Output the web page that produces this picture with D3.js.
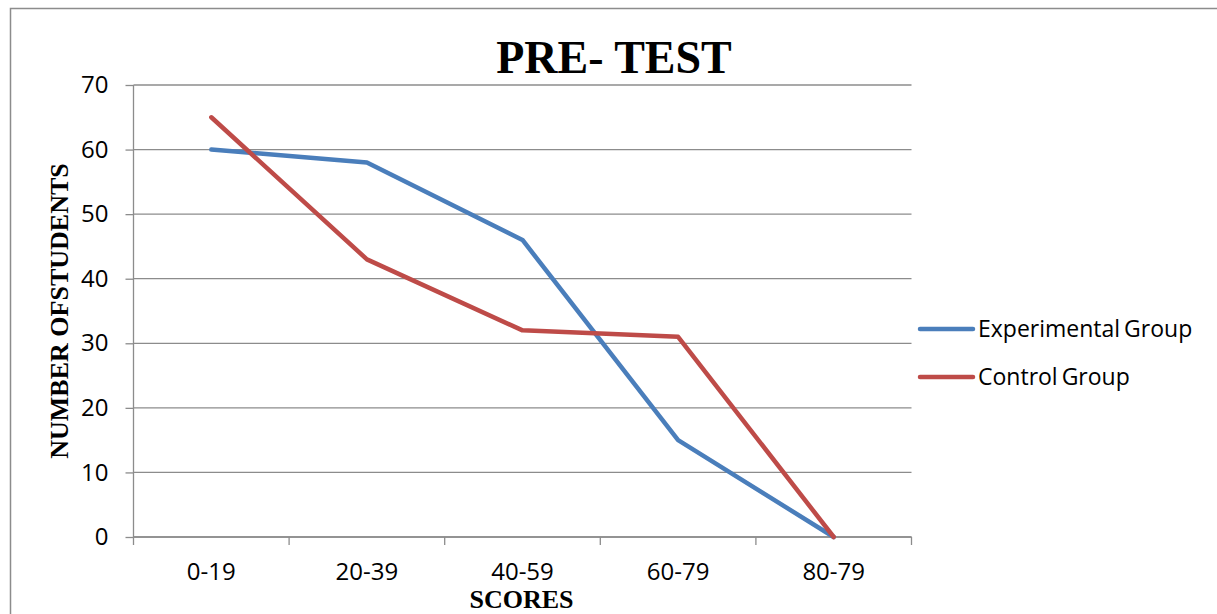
<!DOCTYPE html>
<html>
<head>
<meta charset="utf-8">
<script src="https://cdn.jsdelivr.net/npm/d3@7"></script>
<style>
  body { margin: 0; background: #fff; }
  .tick text { font-family: "Open Sans", sans-serif; font-size: 24px; fill: #000; }
</style>
</head>
<body>
<div id="chart"></div>
<script>
// chart values
var categories = ["0-19", "20-39", "40-59", "60-79", "80-79"];
var experimental = [60, 58, 46, 15, 0];
var control = [65, 43, 32, 31, 0];
var yTicks = [0, 10, 20, 30, 40, 50, 60, 70];
var seriesNames = ["Experimental Group", "Control Group"];
var seriesColors = ["#4a7ebb", "#be4b48"];

var W = 1217, H = 614;
var margin = { top: 85, right: 306, bottom: 77, left: 133.5 },
    width = 911.5 - margin.left,
    height = 537 - margin.top;

var svg = d3.select("#chart").append("svg")
    .attr("width", W)
    .attr("height", H);

// outer frame
svg.append("rect")
    .attr("x", 10.5).attr("y", 8.5)
    .attr("width", W + 10).attr("height", H + 10)
    .attr("fill", "none")
    .attr("stroke", "#8c8c8c")
    .attr("stroke-width", 1.5);

var g = svg.append("g")
    .attr("transform", "translate(" + margin.left + "," + margin.top + ")");

var x = d3.scaleBand().domain(categories).range([0, width]);
var y = d3.scaleLinear().domain([0, 70]).range([height, 0]);

// gridlines
g.selectAll(".grid")
    .data(yTicks)
    .enter().append("line")
    .attr("x1", 0).attr("x2", width)
    .attr("y1", function (d) { return y(d); })
    .attr("y2", function (d) { return y(d); })
    .attr("stroke", "#8c8c8c")
    .attr("stroke-width", 1.3);

var yAxis = g.append("g")
    .call(d3.axisLeft(y).tickValues(yTicks).tickSize(8).tickPadding(17));
yAxis.selectAll("line, path").attr("stroke", "#8c8c8c").attr("stroke-width", 1.3);
yAxis.select(".domain").attr("d", "M0," + height + "V0");

// bottom axis, ticks on the band edges
var xAxis = g.append("g")
    .attr("transform", "translate(0," + height + ")")
    .call(d3.axisBottom(x).tickSize(0).tickPadding(34));
xAxis.select(".domain").attr("d", "M0,0H" + width).attr("stroke", "#8c8c8c").attr("stroke-width", 1.3);
xAxis.selectAll("text").attr("dy", 0).attr("y", 43);

var edges = categories.map(function (c) { return x(c); }).concat([width]);
g.selectAll(".xtick")
    .data(edges)
    .enter().append("line")
    .attr("x1", function (d) { return d; })
    .attr("x2", function (d) { return d; })
    .attr("y1", height).attr("y2", height + 8)
    .attr("stroke", "#8c8c8c")
    .attr("stroke-width", 1.3);

var line = d3.line()
    .x(function (d, i) { return x(categories[i]) + x.bandwidth() / 2; })
    .y(function (d) { return y(d); });

[experimental, control].forEach(function (s, i) {
    g.append("path")
        .datum(s)
        .attr("d", line)
        .attr("fill", "none")
        .attr("stroke", seriesColors[i])
        .attr("stroke-width", 4.5)
        .attr("stroke-linejoin", "round")
        .attr("stroke-linecap", "round");
});

// titles
svg.append("text")
    .attr("x", 614).attr("y", 73)
    .attr("text-anchor", "middle")
    .style("font-family", "'Liberation Serif', serif")
    .style("font-weight", "bold")
    .style("font-size", "46px")
    .text("PRE- TEST");

svg.append("text")
    .attr("transform", "translate(68,311) rotate(-90)")
    .attr("text-anchor", "middle")
    .style("font-family", "'Liberation Serif', serif")
    .style("font-weight", "bold")
    .style("font-size", "26px")
    .text("NUMBER OFSTUDENTS");

svg.append("text")
    .attr("x", 521.5).attr("y", 608)
    .attr("text-anchor", "middle")
    .style("font-family", "'Liberation Serif', serif")
    .style("font-weight", "bold")
    .style("font-size", "26px")
    .text("SCORES");

// legend
var legend = svg.selectAll(".legend")
    .data(seriesNames)
    .enter().append("g")
    .attr("transform", function (d, i) { return "translate(918," + (329 + i * 48) + ")"; });

legend.append("line")
    .attr("x1", 2).attr("x2", 55)
    .attr("stroke", function (d, i) { return seriesColors[i]; })
    .attr("stroke-width", 4.5)
    .attr("stroke-linecap", "round");

legend.append("text")
    .attr("x", 60).attr("y", 8)
    .style("font-family", "'Open Sans', sans-serif")
    .style("font-size", "23px")
    .style("word-spacing", "-2px")
    .text(function (d) { return d; });
</script>
</body>
</html>
